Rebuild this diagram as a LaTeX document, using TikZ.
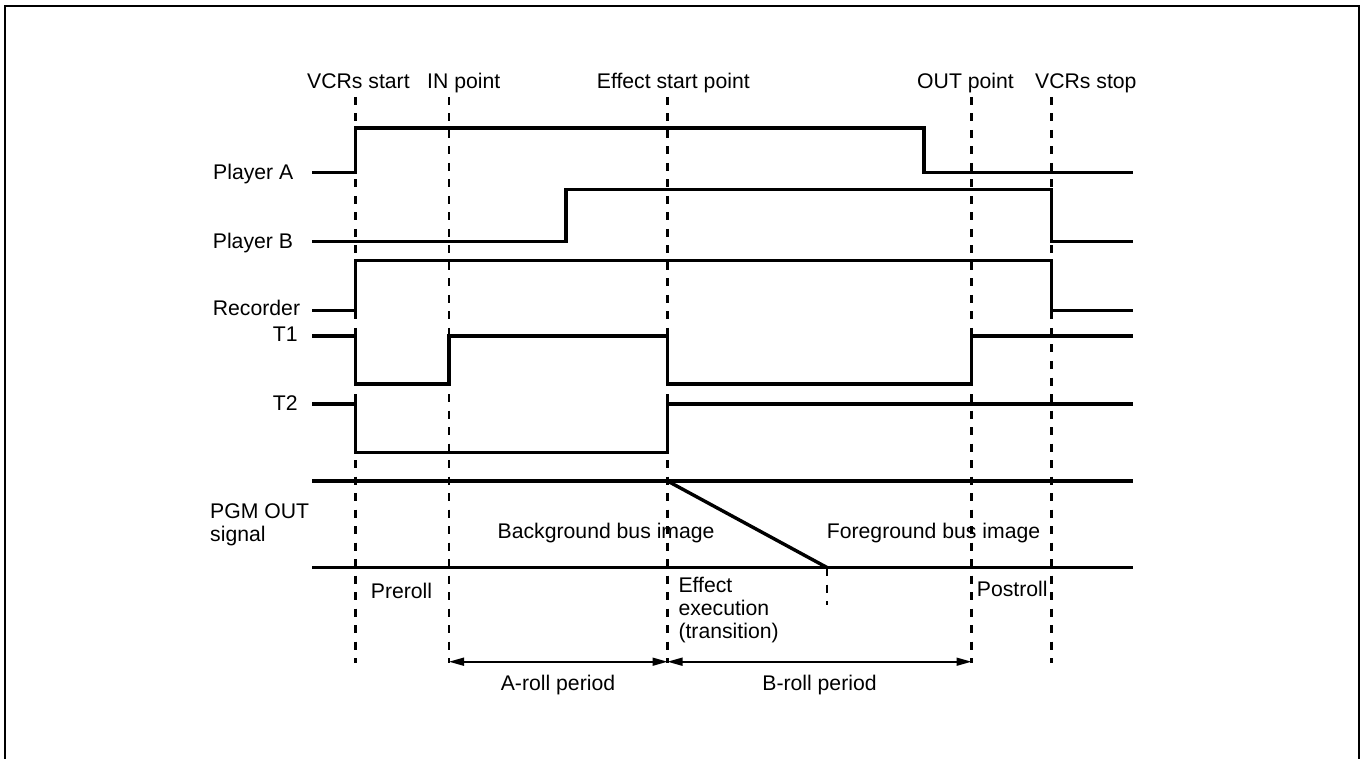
\documentclass[tikz,border=0pt]{standalone}
\usepackage{fontspec}
\setmainfont{Liberation Sans}
\usetikzlibrary{arrows.meta}
\begin{document}
\begin{tikzpicture}[x=1pt,y=-1pt]
\tikzset{
  sig/.style={line width=3.4pt, line join=miter},
  guide/.style={line width=2.2pt, dash pattern=on 8pt off 8.5pt},
  lbl/.style={anchor=base west, inner sep=0pt, font=\fontsize{21.2}{25}\selectfont},
  clbl/.style={anchor=base, inner sep=0pt, font=\fontsize{21.2}{25}\selectfont},
  span/.style={line width=1.6pt, {Triangle[length=15pt,width=8pt]}-{Triangle[length=15pt,width=8pt]}},
  framestyle/.style={line width=2pt}
}
\useasboundingbox (0,0) rectangle (1363,759);
% frame (open at the bottom)
\draw[framestyle] (5,759) -- (5,6) -- (1359,6) -- (1359,759);

% guide coordinates
\coordinate (vstop) at (355.5,97);   \coordinate (vsbot) at (355.5,663);
\coordinate (intop) at (449,97);     \coordinate (inbot) at (449,663);
\coordinate (estop) at (667.5,97);   \coordinate (esbot) at (667.5,663);
\coordinate (outtop) at (971.5,97);  \coordinate (outbot) at (971.5,663);
\coordinate (vetop) at (1051.5,97);  \coordinate (vebot) at (1051.5,663);
\coordinate (inarr) at (449,661.7);
\coordinate (esarr) at (667.5,661.7);
\coordinate (outarr) at (971.5,661.7);
\coordinate (tetop) at (827,568);
\coordinate (tebot) at (827,605);

% dashed guides
\draw[guide] (vstop) -- (vsbot);
\draw[guide] (intop) -- (inbot);
\draw[guide] (estop) -- (esbot);
\draw[guide] (outtop) -- (outbot);
\draw[guide] (vetop) -- (vebot);
\draw[guide] (tetop) -- (tebot);

% top labels
\node[lbl] (lvs) at (307,88.6) {VCRs start};
\node[lbl] (lin) at (427,88.6) {IN point};
\node[lbl] (les) at (596.7,88.6) {Effect start point};
\node[lbl] (lout) at (917,88.6) {OUT point};
\node[lbl] (lve) at (1035,88.6) {VCRs stop};

% row labels
\node[lbl] (pa) at (213,179.5) {Player A};
\node[lbl] (pb) at (212.7,248.5) {Player B};
\node[lbl] (rec) at (212.7,316) {Recorder};
\node[lbl] (t1) at (272.7,341.6) {T1};
\node[lbl] (t2) at (272.7,410.3) {T2};
\node[lbl] (pgm1) at (210,518.3) {PGM OUT};
\node[lbl] (pgm2) at (210,541.6) {signal};

% waveforms
\draw[sig] (312,172.5) -- (355.5,172.5) -- (355.5,128) -- (924,128) -- (924,172.5) -- (1133,172.5);
\draw[sig] (312,241.5) -- (566,241.5) -- (566,189.5) -- (1051.5,189.5) -- (1051.5,241.5) -- (1133,241.5);
\draw[sig] (312,310.5) -- (355.5,310.5) -- (355.5,260.5) -- (1051.5,260.5) -- (1051.5,310.5) -- (1133,310.5);
\draw[sig] (312,336) -- (355.5,336) -- (355.5,384) -- (449,384) -- (449,336) -- (667.5,336) -- (667.5,384) -- (971.5,384) -- (971.5,336) -- (1133,336);
\draw[sig] (312,404) -- (355.5,404) -- (355.5,452.5) -- (667.5,452.5) -- (667.5,404) -- (1133,404);
\draw[sig] (312,481) -- (1133,481);
\draw[sig] (312,567.5) -- (1133,567.5);
\draw[sig] (667.5,481) -- (827,567.5);

% PGM labels
\node[lbl] (bg) at (497.5,538) {Background bus image};
\node[lbl] (fg) at (826.7,538.5) {Foreground bus image};

% period labels
\node[lbl] (pre) at (370.7,598.3) {Preroll};
\node[lbl] (post) at (976.7,596) {Postroll};
\node[lbl] (eff1) at (678.3,592.5) {Effect};
\node[lbl] (eff2) at (678.3,615.5) {execution};
\node[lbl] (eff3) at (678.3,638.5) {(transition)};

% spans
\draw[span] (inarr) -- (esarr);
\draw[span] (esarr) -- (outarr);
\node[clbl] (aroll) at (558,690) {A-roll period};
\node[clbl] (broll) at (819.5,690) {B-roll period};
\end{tikzpicture}
\end{document}
